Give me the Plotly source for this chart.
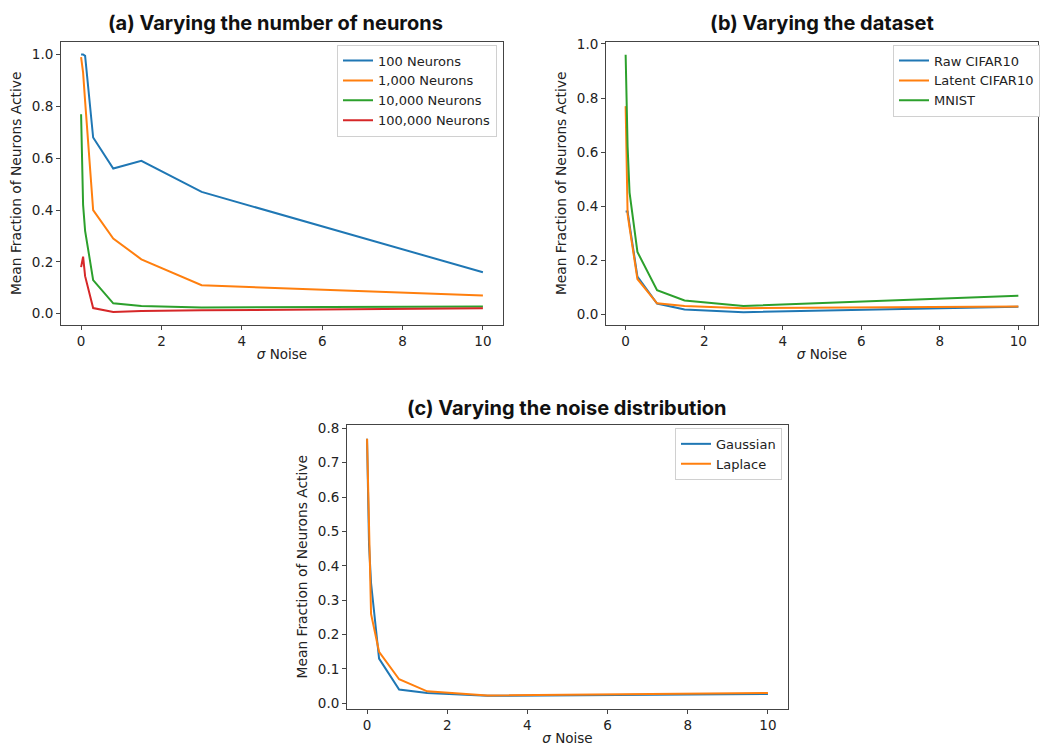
import plotly.graph_objects as go

# ---------------- data ----------------
sigma = [0, 0.05, 0.1, 0.3, 0.8, 1.5, 3, 10]

# (a) varying number of neurons
neurons_labels = ["100 Neurons", "1,000 Neurons", "10,000 Neurons", "100,000 Neurons"]
n100 = [1.0, 1.0, 0.995, 0.68, 0.56, 0.59, 0.47, 0.16]
n1000 = [0.99, 0.93, 0.82, 0.40, 0.29, 0.21, 0.11, 0.07]
n10000 = [0.77, 0.42, 0.32, 0.13, 0.04, 0.03, 0.024, 0.028]
n100000 = [0.18, 0.22, 0.145, 0.022, 0.007, 0.011, 0.013, 0.021]

# (b) varying dataset
dataset_labels = ["Raw CIFAR10", "Latent CIFAR10", "MNIST"]
raw_cifar = [0.38, 0.38, 0.33, 0.139, 0.039, 0.017, 0.007, 0.027]
latent_cifar = [0.77, 0.37, 0.32, 0.13, 0.04, 0.03, 0.022, 0.028]
mnist = [0.96, 0.62, 0.45, 0.23, 0.088, 0.05, 0.03, 0.068]

# (c) varying noise distribution
noise_labels = ["Gaussian", "Laplace"]
gaussian = [0.77, 0.46, 0.35, 0.13, 0.04, 0.03, 0.022, 0.027]
laplace = [0.77, 0.46, 0.26, 0.15, 0.07, 0.035, 0.023, 0.03]

titles = ["(a) Varying the number of neurons", "(b) Varying the dataset",
          "(c) Varying the noise distribution"]
xticks = [0, 2, 4, 6, 8, 10]

colors = ["#1f77b4", "#ff7f0e", "#2ca02c", "#d62728"]

W, H = 1041, 753
def px_x(a, b):
    return [a / W, b / W]
def px_y(top, bottom):
    return [1 - bottom / H, 1 - top / H]

fig = go.Figure()

groups = [
    ([n100, n1000, n10000, n100000], neurons_labels, "x", "y", "legend"),
    ([raw_cifar, latent_cifar, mnist], dataset_labels, "x2", "y2", "legend2"),
    ([gaussian, laplace], noise_labels, "x3", "y3", "legend3"),
]
for series, labels, xa, ya, lg in groups:
    for i, (vals, lab) in enumerate(zip(series, labels)):
        fig.add_trace(go.Scatter(x=sigma, y=vals, mode="lines", name=lab,
                                 line=dict(color=colors[i], width=2),
                                 xaxis=xa, yaxis=ya, legend=lg))

font_tick = dict(family="DejaVu Sans", size=13.5, color="#222")
axis_common = dict(showline=True, mirror=True, linecolor="#444", linewidth=1,
                   ticks="outside", ticklen=4, tickcolor="#444", showgrid=False,
                   zeroline=False, tickfont=font_tick)

xtitle = dict(text="<i>σ</i> Noise", font=dict(family="DejaVu Sans", size=13.5, color="#222"), standoff=1)
ytitle = dict(text="Mean Fraction of Neurons Active", font=dict(family="DejaVu Sans", size=13.8, color="#222"), standoff=6)

fig.update_layout(
    width=W, height=H, margin=dict(l=0, r=0, t=0, b=0),
    paper_bgcolor="white", plot_bgcolor="white",
    xaxis=dict(domain=px_x(61, 503), range=[-0.5, 10.5], tickvals=xticks, anchor="y", title=xtitle, **axis_common),
    yaxis=dict(domain=px_y(36, 323), range=[-0.044, 1.05], tickvals=[0, 0.2, 0.4, 0.6, 0.8, 1.0], tickformat=".1f", anchor="x", title=ytitle, **axis_common),
    xaxis2=dict(domain=px_x(606, 1038), range=[-0.5, 10.5], tickvals=xticks, anchor="y2", title=xtitle, **axis_common),
    yaxis2=dict(domain=px_y(36, 323), range=[-0.041, 1.009], tickvals=[0, 0.2, 0.4, 0.6, 0.8, 1.0], tickformat=".1f", anchor="x2", title=ytitle, **axis_common),
    xaxis3=dict(domain=px_x(347, 788), range=[-0.5, 10.5], tickvals=xticks, anchor="y3", title=xtitle, **axis_common),
    yaxis3=dict(domain=px_y(424, 711), range=[-0.015, 0.81], tickvals=[0, 0.1, 0.2, 0.3, 0.4, 0.5, 0.6, 0.7, 0.8], tickformat=".1f", anchor="x3", title=ytitle, **axis_common),
)

legend_common = dict(bgcolor="white", bordercolor="#d0d0d0", borderwidth=1,
                     font=dict(family="DejaVu Sans", size=13, color="#222"),
                     xanchor="right", yanchor="top", tracegroupgap=0)
fig.update_layout(
    legend=dict(x=497 / W, y=1 - 39 / H, **legend_common),
    legend2=dict(x=1040 / W, y=1 - 39 / H, **legend_common),
    legend3=dict(x=782 / W, y=1 - 427 / H, **legend_common),
)

title_pos = [(275, 17), (822, 17), (567, 407)]
for t, (cx, cy) in zip(titles, title_pos):
    fig.add_annotation(text=f"<b>{t}</b>", x=cx / W, y=1 - cy / H, xref="paper", yref="paper",
                       xanchor="center", yanchor="middle", showarrow=False,
                       font=dict(family="Inter", size=20, color="#111"))

fig.write_html("out.html", config={"displayModeBar": False},
               post_script="document.body.style.margin='0';document.documentElement.style.overflow='hidden';")
